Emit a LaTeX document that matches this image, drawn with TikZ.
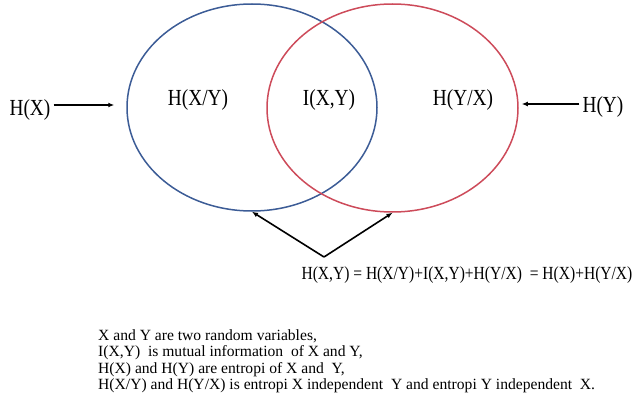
\documentclass[tikz,border=0pt]{standalone}
\usepackage{fontspec}
\setmainfont[FakeStretch=0.84]{Liberation Serif}
\newfontfamily\notefont{Liberation Serif}
\usetikzlibrary{shapes.geometric,arrows.meta}
\definecolor{blx}{RGB}{60,92,150}
\definecolor{rdx}{RGB}{205,75,90}
\tikzset{
    setx/.style={ellipse,draw,line width=1.5pt,inner sep=0pt},
    biglab/.style={inner sep=1pt,font=\fontsize{23}{27}\selectfont},
    eqlab/.style={inner sep=0pt,font=\fontsize{18.5}{22}\selectfont},
    notes/.style={inner sep=0pt,align=left,font=\notefont\fontsize{15.6}{16.5}\selectfont},
    arr/.style={-{Latex[length=6pt,width=5pt]},line width=1.6pt}
}
\begin{document}
\begin{tikzpicture}[x=1pt,y=-1pt]
            \useasboundingbox (0,0) rectangle (633,404);
            \node [setx,blx,minimum width=250pt,minimum height=207pt] (bx) at (252,107.5) {};
            \node [setx,rdx,minimum width=251pt,minimum height=208pt] (ry) at (392.5,108) {};
            \node [biglab] (hxy) at (198,100) {H(X/Y)};
            \node [biglab] (ixy) at (329,100) {I(X,Y)};
            \node [biglab] (hyx) at (463,100) {H(Y/X)};
            \node [biglab] (hx) at (30,110) {H(X)};
            \node [biglab] (hy) at (603,107) {H(Y)};
            \draw [arr,shorten <=2pt,shorten >=12pt] ([yshift=5pt]hx.east) -- ([yshift=5pt]hx.east -| bx.west);
            \draw [arr,shorten <=2pt,shorten >=3pt] ([yshift=3pt]hy.west) -- ([yshift=3pt]hy.west -| ry.east);
            \coordinate (apex) at (324,257);
            \draw [arr] (apex) -- (bx.south);
            \draw [arr] (apex) -- (ry.south);
            \node [eqlab] (eq) at (467,275) {H(X,Y) = H(X/Y)+I(X,Y)+H(Y/X) \ = H(X)+H(Y/X)};
            \node [notes,anchor=north west] (txt) at (98,329) {X and Y are two random variables,\\
                I(X,Y) \ is mutual information \ of X and Y,\\
                H(X) and H(Y) are entropi of X and \ Y,\\
                H(X/Y) and H(Y/X) is entropi X independent \ Y and entropi Y independent \ X.};
        \end{tikzpicture}
\end{document}
